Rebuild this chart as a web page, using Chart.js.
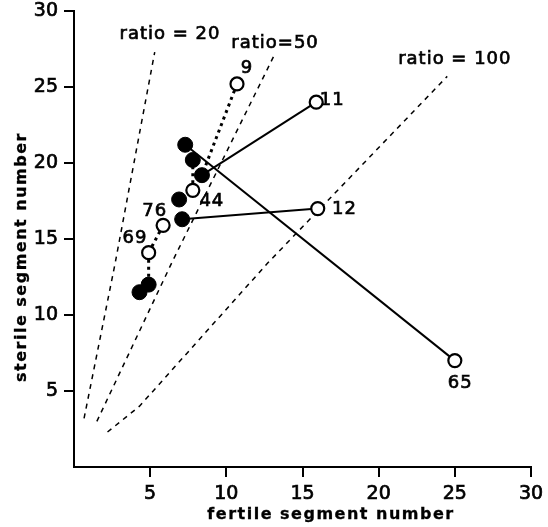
<!DOCTYPE html>
<html>
<head>
<meta charset="utf-8">
<script src="https://cdn.jsdelivr.net/npm/chart.js@4.4.1/dist/chart.umd.min.js"></script>
<style>
  html, body { margin: 0; padding: 0; background: #fff; }
  #wrap { width: 548px; height: 527px; }
</style>
</head>
<body>
<div id="wrap"><canvas id="chart"></canvas></div>
<script>
// open circles (with specimen numbers)
const openIds = ['9', '11', '12', '65', '44', '76', '69']
const openX = [10.7, 15.9, 16.0, 25.0, 7.8, 5.85, 4.9]
const openY = [25.2, 24.0, 17.0, 7.0, 18.2, 15.9, 14.1]
const idLabelX = [11.35, 16.95, 17.75, 25.35, 9.05, 5.3, 4.0]
const idLabelY = [26.25, 24.15, 16.95, 5.5, 17.5, 16.85, 15.05]

// filled circles
const filledX = [7.3, 7.8, 8.4, 6.9, 7.1, 4.9, 4.3]
const filledY = [21.2, 20.2, 19.2, 17.6, 16.3, 12.0, 11.5]

// links: [open index, filled index]
const solidLinks = [[3, 0], [1, 2], [2, 4]]
const dottedLinks = [[0, 2], [4, 1], [6, 5]]
const dottedOpenLinks = [[5, 6]]

// ratio lines
const ratio20X = [0.66, 2.7, 5.3]
const ratio20Y = [3.2, 13.4, 27.3]
const ratio50X = [1.5, 6.4, 13.1]
const ratio50Y = [3.0, 13.4, 27.0]
const ratio100X = [2.2, 4.3, 12.7, 24.5]
const ratio100Y = [2.3, 4.0, 13.4, 25.7]
const ratioLabels = ['ratio = 20', 'ratio=50', 'ratio = 100']
const ratioLabelX = [6.3, 13.2, 25.0]
const ratioLabelY = [28.45, 27.85, 26.8]

const FONT = '"DejaVu Sans", sans-serif'
const pts = (xs, ys) => xs.map((x, i) => ({ x: x, y: ys[i] }))

const datasets = []

datasets.push({
  type: 'scatter', data: pts(openX, openY), order: 0,
  pointRadius: 6.5, pointBackgroundColor: '#fff', pointBorderColor: '#000', pointBorderWidth: 2.2
})
datasets.push({
  type: 'scatter', data: pts(filledX, filledY), order: 0,
  pointRadius: 7.5, pointBackgroundColor: '#000', pointBorderColor: '#000', pointBorderWidth: 1
})

solidLinks.forEach(l => {
  datasets.push({
    type: 'line', order: 2, pointRadius: 0, borderColor: '#000', borderWidth: 2,
    data: [{ x: openX[l[0]], y: openY[l[0]] }, { x: filledX[l[1]], y: filledY[l[1]] }]
  })
})
dottedLinks.forEach(l => {
  datasets.push({
    type: 'line', order: 2, pointRadius: 0, borderColor: '#000', borderWidth: 3, borderDash: [3, 4],
    data: [{ x: openX[l[0]], y: openY[l[0]] }, { x: filledX[l[1]], y: filledY[l[1]] }]
  })
})
dottedOpenLinks.forEach(l => {
  datasets.push({
    type: 'line', order: 2, pointRadius: 0, borderColor: '#000', borderWidth: 3, borderDash: [3, 4],
    data: [{ x: openX[l[0]], y: openY[l[0]] }, { x: openX[l[1]], y: openY[l[1]] }]
  })
})

;[[ratio20X, ratio20Y], [ratio50X, ratio50Y], [ratio100X, ratio100Y]].forEach(r => {
  datasets.push({
    type: 'line', order: 3, pointRadius: 0, borderColor: '#000', borderWidth: 1.5,
    borderDash: [5, 5], data: pts(r[0], r[1])
  })
})

// text labels + axis titles
const textPlugin = {
  id: 'texts',
  afterDatasetsDraw(chart) {
    const ctx = chart.ctx
    const xs = chart.scales.x
    const ys = chart.scales.y
    const put = (t, x, y) => { ctx.strokeText(t, x, y); ctx.fillText(t, x, y) }
    ctx.save()
    ctx.fillStyle = '#000'
    ctx.strokeStyle = '#000'
    ctx.lineWidth = 0.7
    ctx.textAlign = 'center'
    ctx.textBaseline = 'middle'
    ctx.font = '18px ' + FONT
    ctx.letterSpacing = '1px'
    openIds.forEach((t, i) => {
      put(t, xs.getPixelForValue(idLabelX[i]), ys.getPixelForValue(idLabelY[i]))
    })
    ratioLabels.forEach((t, i) => {
      put(t, xs.getPixelForValue(ratioLabelX[i]), ys.getPixelForValue(ratioLabelY[i]))
    })
    ctx.font = 'bold 16px ' + FONT
    ctx.letterSpacing = '1.5px'
    ctx.lineWidth = 0.3
    put('fertile segment number', 331, 515)
    ctx.translate(22, 257)
    ctx.rotate(-Math.PI / 2)
    put('sterile segment number', 0, 0)
    ctx.restore()
  }
}

const tickColor = c => (c.tick && c.tick.value === 0) ? 'rgba(0,0,0,0)' : '#000'
const axis = {
  type: 'linear', min: 0, max: 30,
  ticks: {
    stepSize: 5, color: '#000', padding: 6,
    font: { family: FONT, size: 19 },
    textStrokeColor: '#000', textStrokeWidth: 0.7,
    callback: v => v === 0 ? '' : v
  },
  grid: { drawOnChartArea: false, tickLength: 10, lineWidth: 2, color: tickColor },
  border: { color: '#000', width: 2 }
}

new Chart(document.getElementById('chart'), {
  type: 'scatter',
  data: { datasets: datasets },
  options: {
    responsive: true,
    maintainAspectRatio: false,
    animation: false,
    layout: { padding: { top: 11, right: 17, left: 0, bottom: 0 } },
    plugins: { legend: { display: false }, tooltip: { enabled: false } },
    scales: {
      x: Object.assign({}, axis, {
        afterFit: s => { s.height = 60; s.paddingLeft = 0; s.paddingRight = 0 }
      }),
      y: Object.assign({}, axis, {
        afterFit: s => { s.width = 74; s.paddingTop = 0; s.paddingBottom = 0 }
      })
    }
  },
  plugins: [textPlugin]
})
</script>
</body>
</html>
